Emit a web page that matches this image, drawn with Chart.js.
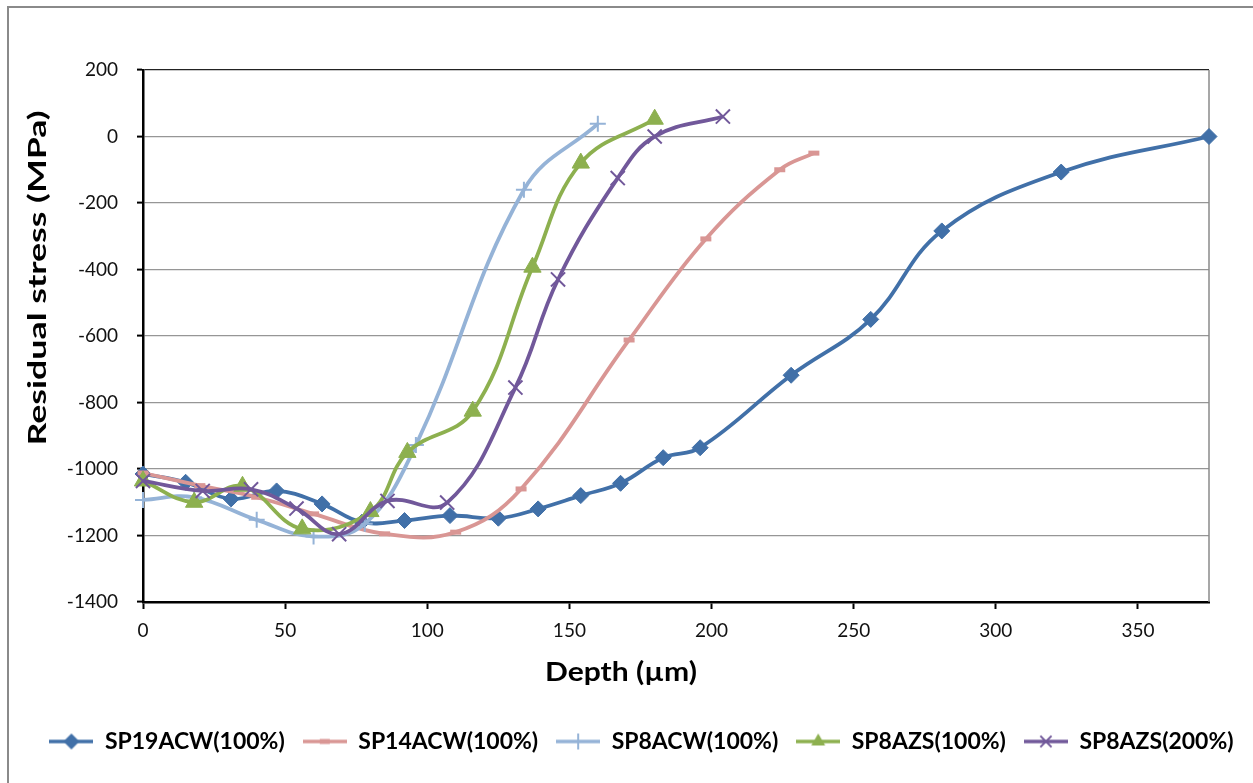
<!DOCTYPE html>
<html>
<head>
<meta charset="utf-8">
<title>Residual stress vs depth</title>
<script src="https://cdn.jsdelivr.net/npm/chart.js@4.4.0/dist/chart.umd.min.js"></script>
<style>
  html, body { margin: 0; padding: 0; background: #fff; }
  #wrap { position: relative; width: 1253px; height: 783px; }
</style>
</head>
<body>
<div id="wrap"><canvas id="stressChart" width="1253" height="783"></canvas></div>
<script>
// Series names (legend order)
const seriesNames = ['SP19ACW(100%)', 'SP14ACW(100%)', 'SP8ACW(100%)', 'SP8AZS(100%)', 'SP8AZS(200%)'];

// Depth (µm) / residual stress (MPa)
const sp19Depth  = [0, 15, 31, 47, 63, 77, 92, 108, 125, 139, 154, 168, 183, 196, 228, 256, 281, 323, 375];
const sp19Stress = [-1015, -1040, -1090, -1066, -1105, -1160, -1155, -1140, -1148, -1120, -1080, -1043, -966, -936, -718, -550, -284, -107, 0];

const sp14Depth  = [0, 20, 40, 60, 85, 110, 133, 171, 198, 224, 236];
const sp14Stress = [-1012, -1050, -1085, -1135, -1195, -1190, -1060, -612, -308, -100, -50];

const sp8Depth   = [0, 18, 40, 60, 78, 96, 134, 160];
const sp8Stress  = [-1093, -1085, -1153, -1203, -1165, -928, -160, 38];

const azs100Depth  = [0, 18, 35, 56, 80, 93, 116, 137, 154, 180];
const azs100Stress = [-1036, -1100, -1052, -1180, -1128, -950, -826, -393, -80, 52];

const azs200Depth  = [0, 21, 38, 54, 69, 86, 107, 131, 146, 167, 180, 204];
const azs200Stress = [-1036, -1066, -1061, -1119, -1196, -1096, -1101, -755, -430, -125, 0, 60];

// Axis ticks
const xTicks = [0, 50, 100, 150, 200, 250, 300, 350];
const yTicks = [200, 0, -200, -400, -600, -800, -1000, -1200, -1400];

// Styling
const seriesColors = ['#4170A8', '#D99694', '#95B3D7', '#8DB04F', '#71589A'];
const markerStyles = ['rectRot', 'line', 'cross', 'triangle', 'crossRot'];
const markerRadius = [8, 5.5, 8, 10, 10];
const markerBorder = [1, 5, 2, 1, 2];

const depths = [sp19Depth, sp14Depth, sp8Depth, azs100Depth, azs200Depth];
const stresses = [sp19Stress, sp14Stress, sp8Stress, azs100Stress, azs200Stress];

function toPoints(xs, ys) {
    return xs.map((x, i) => ({ x: x, y: ys[i] }));
}

// draw one marker shape on a small 2d context (for the legend icons)
function drawMarker(g, style, x, y, r) {
    g.beginPath();
    if (style === 'rectRot') {
        g.moveTo(x - r, y); g.lineTo(x, y - r); g.lineTo(x + r, y); g.lineTo(x, y + r);
        g.closePath(); g.fill();
    } else if (style === 'line') {
        g.fillRect(x - 5, y - 2.5, 10, 5);
    } else if (style === 'cross') {
        g.lineWidth = 2;
        g.moveTo(x - r, y); g.lineTo(x + r, y);
        g.moveTo(x, y - r); g.lineTo(x, y + r);
        g.stroke();
    } else if (style === 'triangle') {
        g.moveTo(x, y - r); g.lineTo(x + r * 0.87, y + r * 0.5); g.lineTo(x - r * 0.87, y + r * 0.5);
        g.closePath(); g.fill();
    } else if (style === 'crossRot') {
        const d = r * 0.7;
        g.lineWidth = 2;
        g.moveTo(x - d, y - d); g.lineTo(x + d, y + d);
        g.moveTo(x + d, y - d); g.lineTo(x - d, y + d);
        g.stroke();
    }
}

function makeLegendIcon(color, style) {
    const c = document.createElement('canvas');
    c.width = 44;
    c.height = 22;
    const g = c.getContext('2d');
    g.strokeStyle = color;
    g.fillStyle = color;
    g.lineWidth = 3.5;
    g.beginPath();
    g.moveTo(0, 11);
    g.lineTo(44, 11);
    g.stroke();
    drawMarker(g, style, 22, 11, 8);
    return c;
}

const legendIcons = seriesColors.map((c, i) => makeLegendIcon(c, markerStyles[i]));

// text squeezed/stretched to a target width
function drawFittedText(ctx, text, x, y, targetWidth, font, angle) {
    ctx.save();
    ctx.font = font;
    ctx.translate(x, y);
    ctx.rotate(angle);
    const w = ctx.measureText(text).width;
    ctx.scale(targetWidth / w, 1);
    ctx.textAlign = 'center';
    ctx.textBaseline = 'middle';
    ctx.fillStyle = '#000';
    ctx.fillText(text, 0, 0);
    ctx.restore();
}

const framePlugin = {
    id: 'framePlugin',
    beforeDraw(chart) {
        const ctx = chart.ctx;
        ctx.save();
        ctx.fillStyle = '#fff';
        ctx.fillRect(0, 0, chart.width, chart.height);
        ctx.strokeStyle = '#8a8a8a';
        ctx.lineWidth = 2;
        ctx.strokeRect(8, 7, chart.width + 20, chart.height + 20);
        ctx.restore();
    },
    beforeDatasetsDraw(chart) {
        const a = chart.chartArea;
        const ctx = chart.ctx;
        ctx.save();
        ctx.strokeStyle = '#8a8a8a';
        ctx.lineWidth = 1.5;
        ctx.beginPath();
        ctx.moveTo(a.right, a.top);
        ctx.lineTo(a.right, a.bottom);
        ctx.stroke();
        ctx.restore();
    },
    afterDraw(chart) {
        const ctx = chart.ctx;
        drawFittedText(ctx, 'Residual stress (MPa)', 38, 278, 335, 'bold 24px Lato', -Math.PI / 2);
        drawFittedText(ctx, 'Depth (µm)', 621, 673, 152, 'bold 26px Lato', 0);
    }
};

const datasets = seriesNames.map((name, i) => ({
    label: name,
    data: toPoints(depths[i], stresses[i]),
    showLine: true,
    borderColor: seriesColors[i],
    backgroundColor: seriesColors[i],
    borderWidth: 3.8,
    tension: 0.4,
    pointStyle: markerStyles[i],
    pointRadius: markerRadius[i],
    pointHoverRadius: markerRadius[i],
    pointBorderWidth: markerBorder[i],
    pointBackgroundColor: seriesColors[i],
    pointBorderColor: seriesColors[i],
    order: seriesNames.length - i,
    clip: 12
}));

Chart.defaults.font.family = 'Lato';

new Chart(document.getElementById('stressChart'), {
    type: 'scatter',
    data: { datasets: datasets },
    options: {
        responsive: false,
        animation: false,
        events: [],
        layout: { padding: { left: 30, top: 70, right: 0, bottom: 20 } },
        plugins: {
            tooltip: { enabled: false },
            legend: {
                position: 'bottom',
                labels: {
                    usePointStyle: true,
                    pointStyleWidth: 44,
                    padding: 18,
                    color: '#000',
                    font: { family: 'Lato', size: 23, weight: 'bold' },
                    generateLabels: (chart) => chart.data.datasets.map((ds, i) => ({
                        text: ds.label,
                        datasetIndex: i,
                        pointStyle: legendIcons[i],
                        rotation: 0,
                        fillStyle: ds.borderColor,
                        strokeStyle: ds.borderColor,
                        lineWidth: 0,
                        hidden: false,
                        fontColor: '#000'
                    }))
                }
            }
        },
        scales: {
            x: {
                type: 'linear',
                min: 0,
                max: 375,
                afterBuildTicks: (s) => { s.ticks = xTicks.map(v => ({ value: v })); },
                afterFit: (s) => { s.height = 110; },
                grid: { drawOnChartArea: false, drawTicks: true, tickLength: 7, tickColor: '#000', tickWidth: 2 },
                border: { color: '#000', width: 2.5 },
                ticks: { color: '#111', padding: 10, font: { family: 'Lato', size: 19 }, callback: (v) => String(v) }
            },
            y: {
                min: -1400,
                max: 200,
                afterBuildTicks: (s) => { s.ticks = yTicks.map(v => ({ value: v })); },
                afterFit: (s) => { s.width = 113; },
                grid: {
                    color: (c) => (c.tick && c.tick.value === 200 ? '#222' : '#969696'),
                    lineWidth: 1.2,
                    drawTicks: true,
                    tickLength: 6,
                    tickColor: '#000',
                    tickWidth: 2
                },
                border: { color: '#000', width: 2.5 },
                ticks: { color: '#111', padding: 19, font: { family: 'Lato', size: 19 }, callback: (v) => String(v) }
            },
            y2: {
                position: 'right',
                display: true,
                grid: { display: false, drawTicks: false },
                border: { display: false },
                ticks: { display: false },
                afterFit: (s) => { s.width = 44; }
            }
        }
    },
    plugins: [framePlugin]
});
</script>
</body>
</html>
